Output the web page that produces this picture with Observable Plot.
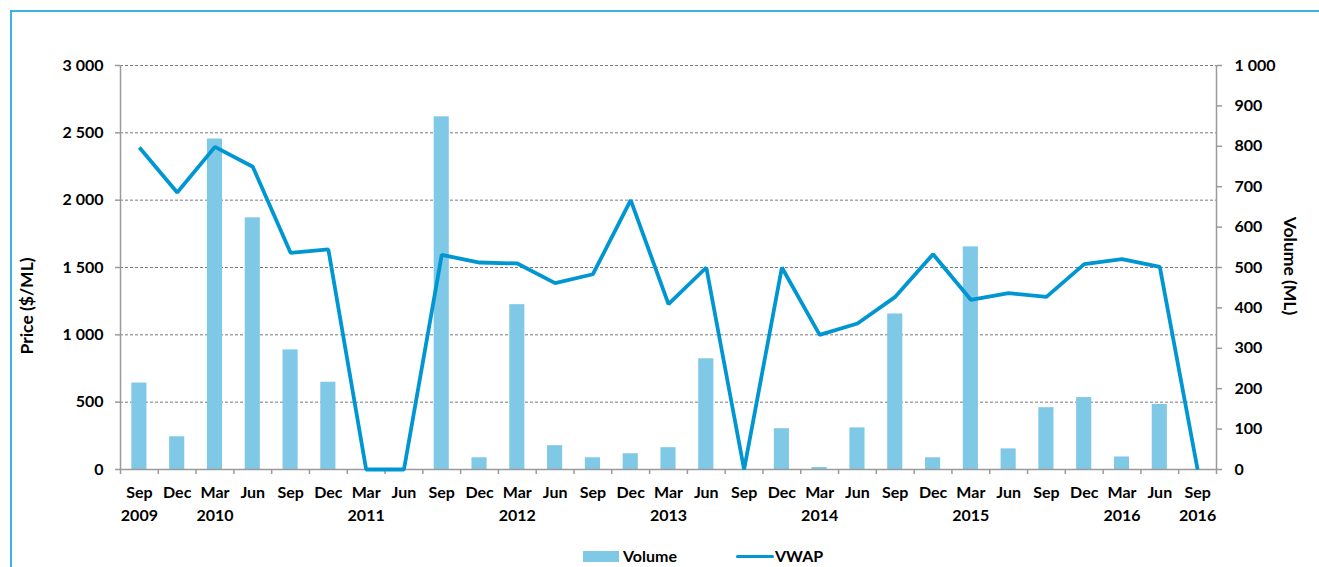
<!DOCTYPE html>
<html>
<head>
<meta charset="utf-8">
<script src="https://cdn.jsdelivr.net/npm/d3@7"></script>
<script src="https://cdn.jsdelivr.net/npm/@observablehq/plot@0.6"></script>
<style>
  html, body { margin: 0; padding: 0; background: #fff; }
  body { width: 1319px; height: 567px; position: relative; overflow: hidden; font-family: Lato, "Open Sans", sans-serif; }
  #frame { position: absolute; left: 10px; top: 10px; width: 1400px; height: 700px; border-left: 2px solid #3db3e4; border-top: 2px solid #3db3e4; box-sizing: border-box; }
  #chart { position: absolute; left: 0; top: 0; }
  .ttl { position: absolute; font-weight: 700; font-size: 17.5px; color: #000; white-space: nowrap; }
  #legend { position: absolute; top: 547px; left: 0; width: 1319px; height: 20px; font-weight: 700; font-size: 16px; }
  .sw { position: absolute; }
</style>
</head>
<body>
<div id="frame"></div>
<div id="chart"></div>
<div class="ttl" id="ylab" style="left:26px; top:306px; transform: translate(-50%,-50%) rotate(-90deg);">Price ($/ML)</div>
<div class="ttl" id="y2lab" style="left:1290px; top:266px; transform: translate(-50%,-50%) rotate(90deg);">Volume (ML)</div>
<div id="legend">
  <div class="sw" style="left:583px; top:4px; width:36px; height:11px; background:#7fc8e6;"></div>
  <div class="sw" style="left:623px; top:-1px;">Volume</div>
  <div class="sw" style="left:736px; top:8px; width:38px; height:3px; background:#0096d2; border-radius:2px;"></div>
  <div class="sw" style="left:775px; top:-1px;">VWAP</div>
</div>
<script>
// ---- data ----
const months = ["Sep","Dec","Mar","Jun","Sep","Dec","Mar","Jun","Sep","Dec","Mar","Jun","Sep","Dec","Mar","Jun","Sep","Dec","Mar","Jun","Sep","Dec","Mar","Jun","Sep","Dec","Mar","Jun","Sep"];
const yearLabels = ["2009","","2010","","","","2011","","","","2012","","","","2013","","","","2014","","","","2015","","","","2016","","2016"];
const periods = ["Sep 2009","Dec 2009","Mar 2010","Jun 2010","Sep 2010","Dec 2010","Mar 2011","Jun 2011","Sep 2011","Dec 2011","Mar 2012","Jun 2012","Sep 2012","Dec 2012","Mar 2013","Jun 2013","Sep 2013","Dec 2013","Mar 2014","Jun 2014","Sep 2014","Dec 2014","Mar 2015","Jun 2015","Sep 2015","Dec 2015","Mar 2016","Jun 2016","Sep 2016"];
const volume = [214,81,818,623,296,216,0,0,873,29,408,59,29,39,54,274,0,101,5,103,385,29,551,51,153,178,31,161,0];
const vwap = [2391,2057,2396,2248,1609,1634,0,0,1594,1537,1530,1384,1450,2000,1228,1500,0,1500,1000,1084,1282,1599,1260,1309,1282,1525,1562,1505,0];
const priceTicks = [0,500,1000,1500,2000,2500,3000];
const volumeTicks = [0,100,200,300,400,500,600,700,800,900,1000];

const ratio = 3000 / 1000; // right axis (volume) to left axis (price)
const rows = periods.map((p, i) => ({period: p, month: months[i], year: yearLabels[i], volume: volume[i], vwap: vwap[i]}));
const labelOf = new Map(rows.map(r => [r.period, r.year ? r.month + "\n" + r.year : r.month]));

const loc = d3.formatLocale({decimal: ".", thousands: " ", grouping: [3], currency: ["$", ""]});
const fmt = loc.format(",");

const W = 1319, H = 547;
const mL = 120, mR = W - 1216, mT = 65, mB = H - 469;
const step = (W - mL - mR) / periods.length;
const gray = "#9a9a9a";
const font = "Lato, 'Open Sans', sans-serif";
const fs = 16;

const chart = Plot.plot({
  width: W,
  height: H,
  marginLeft: mL,
  marginRight: mR,
  marginTop: mT,
  marginBottom: mB,
  style: {fontFamily: font, fontSize: fs + "px", fontWeight: 700, color: "#000", background: "transparent", overflow: "visible"},
  x: {type: "band", domain: periods, paddingInner: 0.6, paddingOuter: 0.3, round: false, label: null},
  y: {domain: [0, 3000], label: null},
  marks: [
    Plot.gridY(priceTicks.filter(d => d > 0), {stroke: "#7a7a7a", strokeOpacity: 1, strokeDasharray: "3,2", strokeWidth: 1}),
    Plot.barY(rows, {x: "period", y: d => d.volume * ratio, fill: "#7fc8e6"}),
    // axis frame lines
    Plot.ruleY([0], {stroke: gray, strokeWidth: 1.5}),
    Plot.ruleX([periods[0]], {dx: -step / 2, stroke: gray, strokeWidth: 1.5}),
    Plot.ruleX([periods[periods.length - 1]], {dx: step / 2, stroke: gray, strokeWidth: 1.5}),
    // x ticks at category boundaries
    Plot.axisX({ticks: periods, text: null, tickSize: 5, dx: -step / 2, stroke: gray, strokeWidth: 1.5}),
    Plot.axisX({ticks: [periods[periods.length - 1]], text: null, tickSize: 5, dx: step / 2, stroke: gray, strokeWidth: 1.5}),
    Plot.axisX({ticks: periods, tickSize: 0, tickPadding: 13, tickFormat: d => labelOf.get(d), lineHeight: 1.4, fontSize: fs, fontWeight: 700, fill: "#000", label: null}),
    // left axis (price)
    Plot.axisY({ticks: priceTicks, tickFormat: fmt, tickSize: 5, tickPadding: 12, stroke: gray, strokeWidth: 1.5, fill: "#000", fontSize: fs, fontWeight: 700, label: null}),
    // right axis (volume)
    Plot.axisY({anchor: "right", ticks: volumeTicks.map(v => v * ratio), tickFormat: d => fmt(Math.round(d / ratio)), tickSize: 5, tickPadding: 13, stroke: gray, strokeWidth: 1.5, fill: "#000", fontSize: fs, fontWeight: 700, label: null}),
    Plot.line(rows, {x: "period", y: "vwap", stroke: "#0096d2", strokeWidth: 3.8, strokeLinejoin: "miter", strokeLinecap: "butt"})
  ]
});
document.getElementById("chart").appendChild(chart);
</script>
</body>
</html>
